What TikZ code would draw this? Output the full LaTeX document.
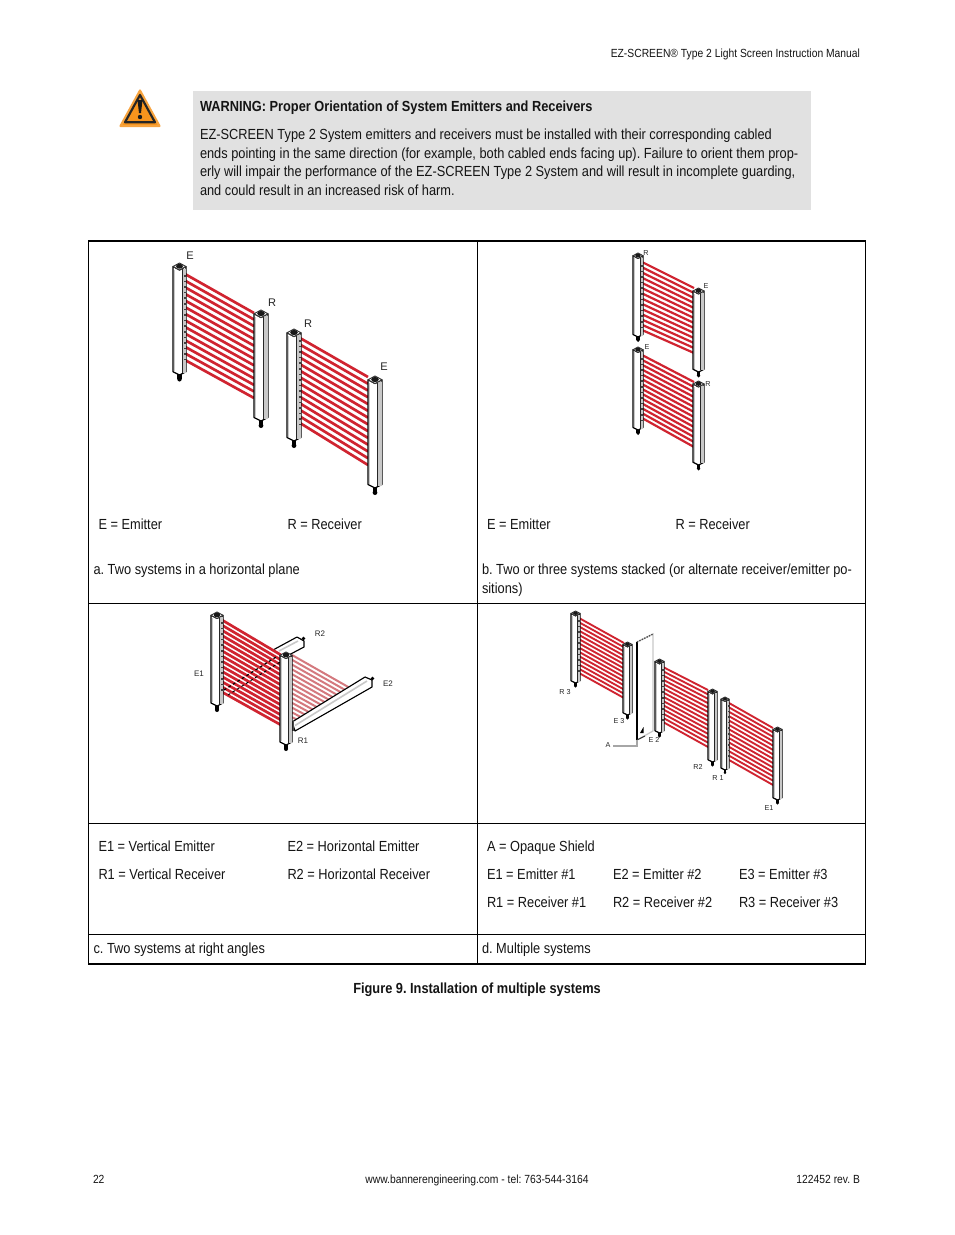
\documentclass[tikz,border=0pt]{standalone}
\usepackage{fontspec}
\setmainfont{Liberation Sans}
\frenchspacing
\newfontfamily\cond[FakeStretch=0.875]{Liberation Sans}
\newcommand\bodyf{\cond\frenchspacing\fontsize{10.97}{12}\selectfont}
\newcommand\smallf{\cond\frenchspacing\fontsize{8.85}{10}\selectfont}
\definecolor{beamred}{HTML}{D02430}
\definecolor{palered}{HTML}{D4797E}
\definecolor{postgray}{HTML}{C8C8C8}
\definecolor{boxgray}{HTML}{E1E1E1}
\definecolor{warnorange}{HTML}{F7941D}
\tikzset{
 txt/.style={anchor=base west,inner sep=0pt,outer sep=0pt,font=\bodyf,text=black!92},
 txtb/.style={txt,font=\bodyf\bfseries},
 lab/.style={anchor=center,inner sep=0pt,outer sep=0pt,text=black!85},
 laba/.style={lab,font=\fontsize{8.3}{10}\selectfont},
 labs/.style={lab,font=\fontsize{5.4}{7}\selectfont},
 labc/.style={lab,font=\fontsize{6}{7}\selectfont},
 outer/.style={line width=1.2pt,black},
 inner/.style={line width=0.75pt,black},
}
\newcommand\lpost[4]{% x1 x2 ytop ybot
 \pgfmathsetmacro\xm{(#1+#2)/2}
 \pgfmathsetmacro\ww{#2-#1}
 \fill[black] (\xm-0.16*\ww,#4-2) rectangle (\xm+0.16*\ww,#4+0.33*\ww);
 \fill[black] (\xm,#4+0.33*\ww) circle ({0.17*\ww});
 \filldraw[fill=white,draw=black,line width=0.85pt,line join=round]
   (#1,#3+0.27*\ww) -- (#1,#4-0.25*\ww) -- (\xm,#4) -- (#2,#4-0.25*\ww) -- (#2,#3+0.27*\ww) -- (\xm,#3+0.54*\ww) -- cycle;
 \fill[postgray] (#2-0.3*\ww,#3+0.45*\ww) rectangle (#2-0.5,#4-0.15*\ww);
 \draw[black!85,line width=0.55pt] (#2-0.3*\ww,#3+0.45*\ww) -- (#2-0.3*\ww,#4-0.15*\ww);
 \fill[postgray] (#1+1,#3+0.5*\ww) rectangle (#1+0.12*\ww+0.6,#4-0.3*\ww);
 \filldraw[fill=white,draw=black!80,line width=0.7pt,line join=round]
   (#1,#3+0.27*\ww) -- (\xm,#3) -- (#2,#3+0.27*\ww) -- (\xm,#3+0.54*\ww) -- cycle;
 \fill[black!90] (\xm,#3+0.25*\ww) ellipse ({0.27*\ww} and {0.19*\ww});
}
\newcommand\beams[8]{% x1 y1t y1b x2 y2t y2b intervals width
 \foreach \i in {0,...,#7}{
  \draw[beamred,line width=#8] (#1,{#2+(#3-#2)*\i/#7}) -- (#4,{#5+(#6-#5)*\i/#7});
 }
}
\newcommand\ticks[3]{% x ytop ybot
 \draw[black!75,line width=1.3pt,dash pattern=on 1.2pt off 3pt] (#1,#2) -- (#1,#3);
}
\begin{document}
\begin{tikzpicture}[x=0.75pt,y=-0.75pt]
\useasboundingbox (0,0) rectangle (954,1235);
\fill[white] (0,0) rectangle (954,1235);

% header & footer
\node[txt,anchor=base east,font=\smallf] (hdr) at (860,57) {EZ-SCREEN\textregistered{} Type 2 Light Screen Instruction Manual};
\node[txt,font=\smallf] (fpage) at (93,1183) {22};
\node[txt,anchor=base,font=\smallf] (fweb) at (477,1183) {www.bannerengineering.com - tel: 763-544-3164};
\node[txt,anchor=base east,font=\smallf] (frev) at (860,1183) {122452 rev. B};

% warning
\fill[boxgray] (193,91) rectangle (811,210);
\filldraw[fill=warnorange,draw=warnorange!85,line width=1.6pt,line join=round] (140,90.5) -- (159.5,126) -- (120.5,126) -- cycle;
\draw[black!85,line width=1.6pt,line join=round] (140,95) -- (155,122.3) -- (125,122.3) -- cycle;
\fill[black!90] (137.5,100) -- (142.5,100) -- (141,113) -- (139,113) -- cycle;
\fill[black!90] (140,117) circle (2.2);
\node[txtb] (w0) at (200,111) {WARNING: Proper Orientation of System Emitters and Receivers};
\node[txt] (w1) at (200,139) {EZ-SCREEN Type 2 System emitters and receivers must be installed with their corresponding cabled};
\node[txt] (w2) at (200,158) {ends pointing in the same direction (for example, both cabled ends facing up). Failure to orient them prop-};
\node[txt] (w3) at (200,176.5) {erly will impair the performance of the EZ-SCREEN Type 2 System and will result in incomplete guarding,};
\node[txt] (w4) at (200,195) {and could result in an increased risk of harm.};

% table
\draw[inner] (88,603.5) -- (866,603.5);
\draw[inner] (88,823.5) -- (866,823.5);
\draw[inner] (88,934.5) -- (866,934.5);
\draw[inner] (477.5,241) -- (477.5,964);
\draw[outer] (88.5,241) rectangle (865.5,964);

% panel a
\beams{185}{274}{360}{254}{313}{398}{13}{2pt}
\beams{300}{338}{423}{368}{377}{465}{13}{2pt}
\lpost{173}{186}{263}{375}
\ticks{185}{275}{360}
\lpost{254}{268}{310}{421}
\lpost{287}{301}{329}{441}
\ticks{300}{340}{425}
\lpost{368}{382}{376}{488}
\node[laba] (aE1) at (190,256) {E};
\node[laba] (aR1) at (272,303) {R};
\node[laba] (aR2) at (308,324) {R};
\node[laba] (aE2) at (384,367) {E};
\node[txt] (at1) at (98.5,529.5) {E = Emitter};
\node[txt] (at2) at (287.5,529.5) {R = Receiver};
\node[txt] (at3) at (93.5,574) {a. Two systems in a horizontal plane};

% panel b
\beams{642}{262}{330}{694}{288}{353}{13}{1.65pt}
\beams{642}{355}{418}{694}{382}{447}{13}{1.65pt}
\lpost{633}{643}{253}{337}
\ticks{642}{265}{330}
\lpost{693}{704}{288}{372}
\lpost{633}{643}{347}{430}
\ticks{642}{358}{420}
\lpost{693}{704}{381}{465}
\node[labs] (bR1) at (646,253) {R};
\node[labs] (bE1) at (706,286) {E};
\node[labs] (bE2) at (647,347) {E};
\node[labs] (bR2) at (708,384) {R};
\node[txt] (bt1) at (487,529.5) {E = Emitter};
\node[txt] (bt2) at (675.5,529.5) {R = Receiver};
\node[txt] (bt3) at (482,574) {b. Two or three systems stacked (or alternate receiver/emitter po-};
\node[txt] (bt4) at (482,593) {sitions)};

% panel c
\fill[black] (303.5,638.5) circle (1.9);
\filldraw[fill=white,draw=black,line width=0.85pt,line join=round] (273,650) -- (297,637) -- (304,641) -- (304,647) -- (285,657) -- cycle;
\draw[postgray,line width=1.2pt] (279,651) -- (298,641);
\foreach \i in {0,...,14}{
 \draw[palered,line width=1.5pt] (292,{655+67*\i/14}) -- ({350-57*\i/14},{688+34*\i/14});
}
\beams{222}{620}{692}{281}{655}{725}{14}{2pt}
\draw[black,line width=0.9pt,dash pattern=on 2pt off 2pt] (224,690) -- (276,657);
\draw[black,line width=0.7pt,dash pattern=on 2pt off 2pt] (228,695) -- (280,662);
\lpost{211}{223}{612}{706}
\ticks{222}{622}{692}
\fill[black] (372.5,678.5) circle (1.9);
\filldraw[fill=white,draw=black,line width=0.85pt,line join=round] (292,722) -- (365,677) -- (372,680) -- (372,687) -- (295,731) -- cycle;
\draw[postgray,line width=1.2pt] (295,725.5) -- (367,681);
\fill[black!70] (291,721) rectangle (294,731);
\lpost{280}{292}{652}{745}
\node[labc] (cE1) at (199,674) {E1};
\node[labc] (cR2) at (320,634) {R2};
\node[labc] (cE2) at (388,684) {E2};
\node[labc] (cR1) at (303,741) {R1};
\node[txt] (ct1) at (98.5,851.5) {E1 = Vertical Emitter};
\node[txt] (ct2) at (287.5,851.5) {E2 = Horizontal Emitter};
\node[txt] (ct3) at (98.5,879.5) {R1 = Vertical Receiver};
\node[txt] (ct4) at (287.5,879.5) {R2 = Horizontal Receiver};
\node[txt] (ct5) at (93.5,953) {c. Two systems at right angles};

% panel d
\beams{579}{618}{673}{624}{643}{698}{13}{1.4pt}
\lpost{571}{580}{611}{683}
\ticks{579}{620}{673}
\lpost{623}{632}{642}{715}
\filldraw[fill=white,draw=postgray,line width=0.9pt] (637,642) -- (653,634) -- (653,731) -- (637,740) -- cycle;
\draw[black,line width=1.1pt] (637,642) -- (637,740);
\draw[black!80,line width=0.8pt] (637,740) -- (645,736);
\draw[black!70,line width=1pt,dash pattern=on 1pt off 1pt] (637,642) -- (653,634);
\fill[black] (640,733) -- (643.5,727) -- (643.5,733) -- cycle;
\beams{663}{667}{722}{708}{690}{747}{13}{1.4pt}
\lpost{655}{664}{659}{733}
\ticks{663}{669}{722}
\lpost{708}{717}{689}{762}
\beams{729}{703}{760}{773}{728}{785}{13}{1.4pt}
\lpost{721}{729}{697}{770}
\ticks{729}{705}{760}
\lpost{773}{782}{727}{800}
\node[labs] (dR3) at (565,692) {R 3};
\node[labs] (dE3) at (619,721) {E 3};
\node[labs] (dE2) at (654,740) {E 2};
\node[labs] (dA) at (608,745) {A};
\node[labs] (dR2) at (698,767) {R2};
\node[labs] (dR1) at (718,778) {R 1};
\node[labs] (dE1) at (769,808) {E1};
\coordinate (shield) at (637,740);
\draw[black!35,line width=1pt] (dA.east) ++(3,1) -- (shield |- 0,746) -- (shield);
\node[txt] (dt1) at (487,851.5) {A = Opaque Shield};
\node[txt] (dt2) at (487,879.5) {E1 = Emitter \#1};
\node[txt] (dt3) at (613,879.5) {E2 = Emitter \#2};
\node[txt] (dt4) at (739,879.5) {E3 = Emitter \#3};
\node[txt] (dt5) at (487,907.5) {R1 = Receiver \#1};
\node[txt] (dt6) at (613,907.5) {R2 = Receiver \#2};
\node[txt] (dt7) at (739,907.5) {R3 = Receiver \#3};
\node[txt] (dt8) at (482,953) {d. Multiple systems};

\node[txtb,anchor=base] (cap) at (477,993) {Figure 9. Installation of multiple systems};
\end{tikzpicture}
\end{document}
